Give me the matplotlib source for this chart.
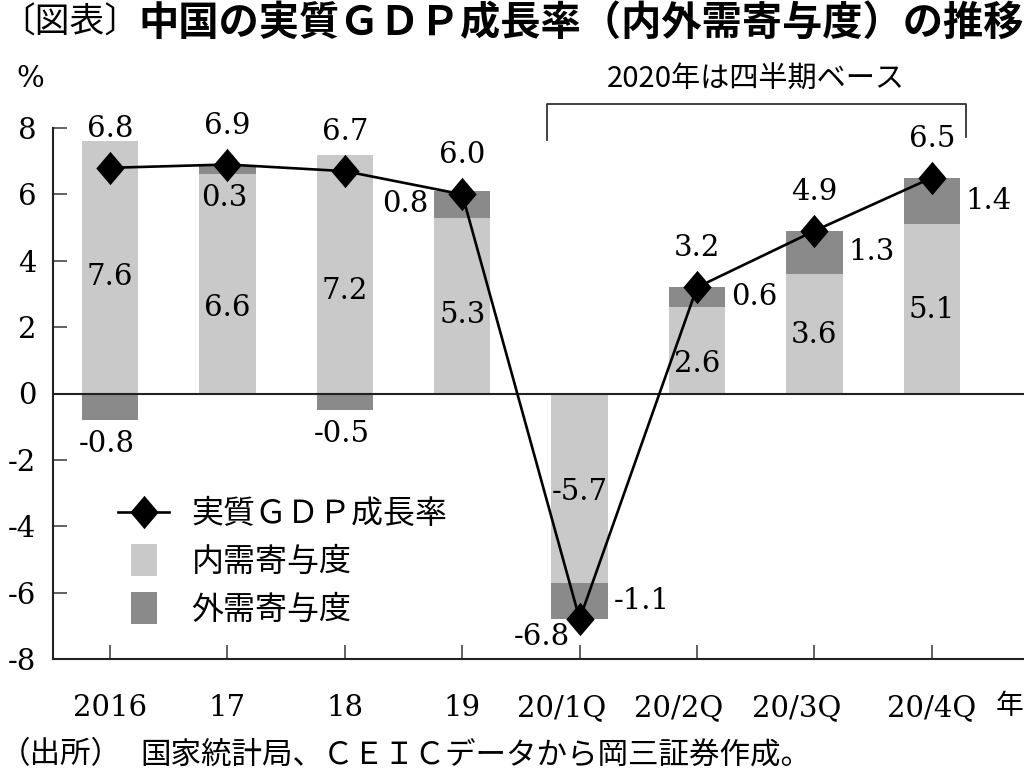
import matplotlib
matplotlib.use('Agg')
import matplotlib.pyplot as plt
from matplotlib.lines import Line2D
from matplotlib.path import Path
from matplotlib.font_manager import FontProperties
import matplotlib.transforms as mtransforms
import numpy as np

# ---------------- data ----------------
categories = ['2016', '17', '18', '19', '20/1Q', '20/2Q', '20/3Q', '20/4Q']
gdp_growth = [6.8, 6.9, 6.7, 6.0, -6.8, 3.2, 4.9, 6.5]
domestic = [7.6, 6.6, 7.2, 5.3, -5.7, 2.6, 3.6, 5.1]
external = [-0.8, 0.3, -0.5, 0.8, -1.1, 0.6, 1.3, 1.4]
y_ticks = [-8, -6, -4, -2, 0, 2, 4, 6, 8]
legend_labels = ['実質ＧＤＰ成長率', '内需寄与度', '外需寄与度']

# ---------------- style ----------------
plt.rcParams['axes.unicode_minus'] = False
LIGHT = '#c9c9c9'
DARK = '#8a8a8a'
SERIF = 'DejaVu Serif'
JP = ['Noto Sans CJK JP', 'DejaVu Sans']
NUM_SIZE = 21

fig = plt.figure(figsize=(10.24, 7.83), dpi=100)
ax = fig.add_axes([53 / 1024, (783 - 659) / 783, (1024 - 53) / 1024, (659 - 128) / 783])

x = np.arange(len(categories))
w = 0.48

ax.bar(x, domestic, w, color=LIGHT, zorder=1, linewidth=0)
ext_bottom = [d if d * e > 0 else 0 for d, e in zip(domestic, external)]
ax.bar(x, external, w, bottom=ext_bottom, color=DARK, zorder=1, linewidth=0)

ax.axhline(0, color='#222222', lw=1.5, zorder=2)

diamond = Path([(0, 1), (0.85, 0), (0, -1), (-0.85, 0), (0, 1)], closed=True)
rect = Path([(-0.8, -1), (0.8, -1), (0.8, 1), (-0.8, 1), (-0.8, -1)], closed=True)

ax.plot(x, gdp_growth, color='black', lw=1.9, marker=diamond, ms=24,
        mfc='black', mec='black', mew=0, zorder=3)

# axes styling
ax.set_xlim(-0.486, 7.785)
ax.set_ylim(-8, 8)
ax.spines['top'].set_visible(False)
ax.spines['right'].set_visible(False)
for s in ('left', 'bottom'):
    ax.spines[s].set_linewidth(1.5)
    ax.spines[s].set_color('#222222')
ax.set_xticks(x)
ax.set_xticklabels(categories)
ax.set_yticks(y_ticks)
ax.set_yticklabels([str(v) for v in y_ticks])
ax.tick_params(axis='both', direction='in', length=10, width=1.3, color='#555555')
ax.tick_params(axis='y', pad=12)
ax.tick_params(axis='x', pad=25)
for lab in ax.get_xticklabels() + ax.get_yticklabels():
    lab.set_fontfamily(SERIF)
    lab.set_fontsize(NUM_SIZE)
# the first three quarterly labels sit slightly left of their ticks
shift = mtransforms.ScaledTranslation(-0.18, 0, fig.dpi_scale_trans)
for lab in ax.get_xticklabels()[4:7]:
    lab.set_transform(lab.get_transform() + shift)

# GDP labels
for i, v in enumerate(gdp_growth):
    if v >= 0:
        ax.annotate(f'{v:.1f}', (x[i], v), xytext=(0, 28), textcoords='offset points',
                    ha='center', va='center', fontsize=NUM_SIZE, family=SERIF, zorder=4)
    else:
        ax.annotate(f'{v:.1f}', (x[i], v), xytext=(-27, -13), textcoords='offset points',
                    ha='center', va='center', fontsize=NUM_SIZE, family=SERIF, zorder=4)

# domestic labels (centre of the light segment)
dom_shift = [7, 17, 12, 7, 3, 10, 1, 1]
for i, d in enumerate(domestic):
    ax.annotate(f'{d:.1f}', (x[i], d / 2), xytext=(0, -dom_shift[i]), textcoords='offset points',
                ha='center', va='center', fontsize=NUM_SIZE, family=SERIF, zorder=4)

# external labels
ext_place = ['below', 'below', 'below', 'left', 'right', 'right', 'right', 'right']
for i, e in enumerate(external):
    b = ext_bottom[i]
    lo = min(b, b + e)
    mid = b + e / 2
    if ext_place[i] == 'below':
        ax.annotate(f'{e:.1f}', (x[i], lo), xytext=(-2, -17), textcoords='offset points',
                    ha='center', va='center', fontsize=NUM_SIZE, family=SERIF, zorder=4)
    elif ext_place[i] == 'left':
        ax.annotate(f'{e:.1f}', (x[i] - w / 2, mid), xytext=(-4, 0), textcoords='offset points',
                    ha='right', va='center', fontsize=NUM_SIZE, family=SERIF, zorder=4)
    else:
        ax.annotate(f'{e:.1f}', (x[i] + w / 2, mid), xytext=(4, 0), textcoords='offset points',
                    ha='left', va='center', fontsize=NUM_SIZE, family=SERIF, zorder=4)

# bracket for 2020 quarterly
q0, q1 = 4, 7
ax.plot([q0 - 0.28, q0 - 0.28, q1 + 0.29, q1 + 0.29], [7.65, 8.73, 8.73, 7.72],
        color='#333333', lw=1.3, clip_on=False)
ax.text((q0 - 0.28 + q1 + 0.29) / 2, 9.45, '2020年は四半期ベース', ha='center', va='center',
        fontsize=21, family=JP)

# legend
handles = [
    Line2D([], [], color='black', lw=1.9, marker=diamond, ms=24, mfc='black', mec='black', mew=0),
    Line2D([], [], ls='none', marker=rect, ms=23, mfc=LIGHT, mec=LIGHT, mew=0),
    Line2D([], [], ls='none', marker=rect, ms=23, mfc=DARK, mec=DARK, mew=0),
]
ax.legend(handles, legend_labels, loc='upper left', bbox_to_anchor=(0.067, 0.303),
          frameon=False, prop=FontProperties(family=JP, size=23),
          handlelength=1.6, handletextpad=0.7, labelspacing=0.5,
          borderpad=0, borderaxespad=0)

# figure texts
fig.text(0.0, 1 - 23 / 783, '〔図表〕', ha='left', va='center', fontsize=25, family=JP)
fig.text(138 / 1024, 1 - 23 / 783, '中国の実質ＧＤＰ成長率（内外需寄与度）の推移',
         ha='left', va='center', fontsize=29, family=JP, fontweight='bold')
fig.text(30 / 1024, 1 - 79 / 783, '%', ha='center', va='center', fontsize=NUM_SIZE, family=SERIF)
fig.text(1023 / 1024, 1 - 706 / 783, '年', ha='right', va='center', fontsize=20, family=JP)
fig.text(0.0, 1 - 755 / 783, '（出所）', ha='left', va='center', fontsize=22, family=JP)
fig.text(140 / 1024, 1 - 755 / 783, '国家統計局、ＣＥＩＣデータから岡三証券作成。',
         ha='left', va='center', fontsize=22, family=JP)

fig.savefig('out.png', dpi=100)
